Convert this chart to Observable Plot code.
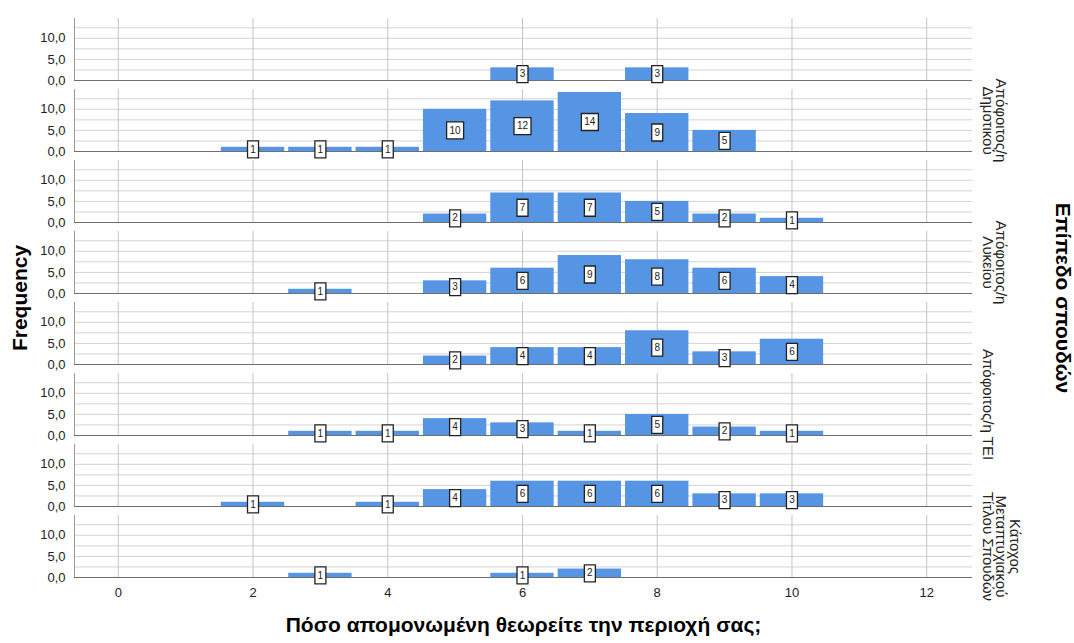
<!DOCTYPE html>
<html><head><meta charset="utf-8">
<script src="https://cdn.jsdelivr.net/npm/d3@7"></script>
<script src="https://cdn.jsdelivr.net/npm/@observablehq/plot@0.6"></script>
<style>body{margin:0;background:#fff;}</style>
</head><body><div id="chart"></div>
<script>
// scores on the x axis (bins of width 1)
const scores = [0, 1, 2, 3, 4, 5, 6, 7, 8, 9, 10];
// frequency per score, one array per education-level panel (top to bottom)
const panel1 = [0, 0, 0, 0, 0, 0, 3, 0, 3, 0, 0];
const panel2 = [0, 0, 1, 1, 1, 10, 12, 14, 9, 5, 0];
const panel3 = [0, 0, 0, 0, 0, 2, 7, 7, 5, 2, 1];
const panel4 = [0, 0, 0, 1, 0, 3, 6, 9, 8, 6, 4];
const panel5 = [0, 0, 0, 0, 0, 2, 4, 4, 8, 3, 6];
const panel6 = [0, 0, 0, 1, 1, 4, 3, 1, 5, 2, 1];
const panel7 = [0, 0, 1, 0, 1, 4, 6, 6, 6, 3, 3];
const panel8 = [0, 0, 0, 1, 0, 0, 1, 2, 0, 0, 0];
// facet labels as shown (alternate labels are not displayed in the original)
const panelLabels = ["", "Απόφοιτος/η\nΔημοτικού", "", "Απόφοιτος/η\nΛυκείου", "", "Απόφοιτος/η ΤΕΙ", "", "Κάτοχος\nΜεταπτυχιακού\nΤίτλου Σπουδών"];
const xTicks = [0, 2, 4, 6, 8, 10, 12];
const yTicks = [0, 5, 10];
const yGrid = [0, 2.5, 5, 7.5, 10, 12.5];
const xDomain = [-0.65, 12.68];
const yDomain = [0, 14.7];
const xTitle = "Πόσο απομονωμένη θεωρείτε την περιοχή σας;";
const yTitle = "Frequency";
const fyTitle = "Επίπεδο σπουδών";

const panels = [panel1, panel2, panel3, panel4, panel5, panel6, panel7, panel8];
const rows = [];
panels.forEach((counts, p) => counts.forEach((c, i) => { if (c > 0) rows.push({panel: p, score: scores[i], count: c}); }));
const labelRows = panelLabels.map((label, panel) => ({panel, label}));

function boxSymbol(w, h) {
  return {draw(ctx) {
    ctx.moveTo(-w / 2, -h / 2); ctx.lineTo(w / 2, -h / 2); ctx.lineTo(w / 2, h / 2); ctx.lineTo(-w / 2, h / 2); ctx.closePath();
  }};
}

const barColor = "#5694e4";
const chart = Plot.plot({
  width: 1074, height: 643,
  marginTop: 17, marginBottom: 64, marginLeft: 74, marginRight: 102,
  style: {fontFamily: "'Liberation Sans', Arial, sans-serif", fontSize: "13px", background: "#fff"},
  x: {domain: xDomain, label: null},
  y: {domain: yDomain, label: null},
  fy: {domain: d3.range(panels.length), paddingInner: 0.12, paddingOuter: 0, axis: null, label: null},
  marks: [
    Plot.ruleY(yGrid, {stroke: "#d4d4d4", strokeOpacity: 1}),
    Plot.ruleX(xTicks, {stroke: "#c4c4c4", strokeOpacity: 1}),
    Plot.ruleX([xDomain[0]], {stroke: "#9a9a9a", strokeOpacity: 1}),
    Plot.rectY(rows, {x1: d => d.score - 0.5, x2: d => d.score + 0.5, y1: 0, y2: "count", fy: "panel", fill: barColor, insetLeft: 2, insetRight: 2}),
    Plot.ruleY([0], {stroke: "#6f6f6f", strokeOpacity: 1}),
    Plot.dot(rows, {filter: d => d.count < 10, x: "score", y: d => d.count / 2, fy: "panel", symbol: boxSymbol(11, 17), fill: "white", stroke: "#222", strokeWidth: 1.3}),
    Plot.dot(rows, {filter: d => d.count >= 10, x: "score", y: d => d.count / 2, fy: "panel", symbol: boxSymbol(17, 17), fill: "white", stroke: "#222", strokeWidth: 1.3}),
    Plot.text(rows, {x: "score", y: d => d.count / 2, fy: "panel", text: d => String(d.count), fontSize: 10, fill: "#222"}),
    Plot.axisY(yTicks, {tickSize: 0, tickPadding: 9, tickFormat: d => d.toFixed(1).replace(".", ","), fontSize: 13, fill: "#222", label: null}),
    Plot.axisX(xTicks, {tickSize: 0, tickPadding: 10, fontSize: 13, fill: "#222", label: null}),
    Plot.text(labelRows, {fy: "panel", text: "label", frameAnchor: "right", dx: 10, rotate: 90, lineAnchor: "bottom", textAnchor: "middle", lineHeight: 0.9, fontSize: 15, fill: "#222"}),
    Plot.text([yTitle], {facet: "super", text: d => d, frameAnchor: "left", textAnchor: "middle", dx: -54, rotate: -90, fontSize: 21, fontWeight: "bold", fill: "#000"}),
    Plot.text([fyTitle], {facet: "super", text: d => d, frameAnchor: "right", textAnchor: "middle", dx: 90, rotate: 90, fontSize: 21, fontWeight: "bold", fill: "#000"}),
    Plot.text([xTitle], {facet: "super", text: d => d, frameAnchor: "bottom", textAnchor: "middle", dy: 54, fontSize: 21, fontWeight: "bold", fill: "#000"})
  ]
});
document.getElementById("chart").appendChild(chart);
</script>
</body></html>
